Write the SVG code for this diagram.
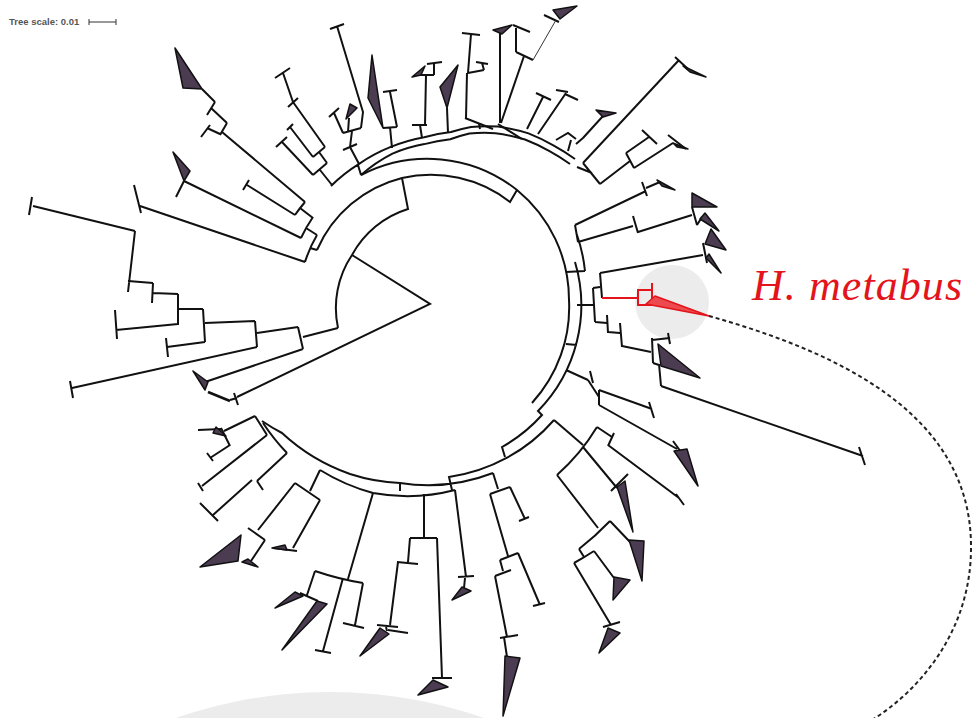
<svg xmlns="http://www.w3.org/2000/svg" width="972" height="718" viewBox="0 0 972 718">
<style>
.b{fill:none;stroke:#111;stroke-width:2;stroke-linejoin:miter}
.t{fill:none;stroke:#333;stroke-width:1}
.w{fill:#4b3c52;stroke:#111;stroke-width:1.5;stroke-linejoin:round}
.r{fill:none;stroke:#e3141b;stroke-width:2}
.rw{fill:#ec4a4f;stroke:#e3141b;stroke-width:1.5;stroke-linejoin:round}
.lbl{font-family:"Liberation Serif","DejaVu Serif",serif;font-style:italic;font-size:44px;fill:#e3141b}
.sc{font-family:"Liberation Sans",Arial,sans-serif;font-weight:bold;font-size:9.5px;fill:#555}
.dash{fill:none;stroke:#222;stroke-width:2;stroke-dasharray:4 3}
.halo{fill:#ececec}
</style>
<rect width="972" height="718" fill="#fff"/>
<circle class="halo" cx="330" cy="1162" r="470"/>
<circle class="halo" cx="672" cy="302" r="37"/>
<g id="scale">
<text class="sc" x="9" y="25">Tree scale: 0.01</text>
<path class="t" d="M89 22 H116 M89 19 V25 M116 19 V25"/>
</g>
<g id="connectors">
<g id="skeleton">
<path class="b" d="M352 255 L430 304 L237 397
M338 328 A95 95 0 0 1 352 255 A96 96 0 0 1 408 209 L402 178
M317 250 A126 126 0 0 1 402 178 A129 129 0 0 1 510 202 L517 190
M361 175 A144 144 0 0 1 517 190 A142 142 0 0 1 569 300 A142 142 0 0 1 532 403
M566 344 L577 345
M575 262 A151 151 0 0 1 538 411 L542 415 A157 157 0 0 1 502 447 L505 457
M554 420 A171 171 0 0 1 449 477 L452 490
M493 473 A180 180 0 0 1 400 483 A186 186 0 0 1 350 474 A195 195 0 0 1 282 433 A200 200 0 0 1 262 421
M455 490 A190 190 0 0 1 373 493 A200 200 0 0 1 320 470
M400 483 L400 491"/>
</g>
<g id="top-band">
<path class="b" d="M361 175 L358 165
M331 186 A155 155 0 0 1 358.7 164.1 A160 160 0 0 1 390.8 146.9 A165 165 0 0 1 424.2 137.2 A170 170 0 0 1 451 132 A177 177 0 0 1 471 127 A186 186 0 0 1 498 126.6 A194 194 0 0 1 528.5 133.4 A199 199 0 0 1 553.8 145.6 A203 203 0 0 1 575 159
M361 175 A150 150 0 0 1 392.5 153.6 A158 158 0 0 1 424.4 144.1 A163 163 0 0 1 450.3 139.2 A171 171 0 0 1 469.4 133.5 A179 179 0 0 1 495.5 133.2 A187 187 0 0 1 525 139.5 A192 192 0 0 1 549.5 151.1 A196 196 0 0 1 570 164"/>
</g>
</g>
<g id="clade-comb">
<path class="b" d="M338 328 L303 337 M298 327 L303 349 M298 327 L257 333 M255 321 L257 347 M257 347 L72 388 M70 381 L73 398
M255 321 L205 323 M203 309 L205 342 M205 342 L167 347 M166 338 L168 357 M203 309 L178 309 M178 294 L178 325 M178 324 L116 330 M115 310 L117 339
M178 294 L153 293 M153 283 L152 303 M153 283 L128 281 M135 231 L128 292 M135 231 L33 206 M32 197 L29 215 M303 349 L205 382"/>
<polygon class="w" points="193,371 208,382 205,390"/>
</g>
<g id="clade-root-low">
<path class="b" d="M237 398 L230 400 M234 393 L238 405"/>
<path class="b" style="stroke-width:2.6" d="M230 401 L208 392"/>
</g>
<g id="clade-ul">
<path class="b" d="M317 250 L310 248 M305 262 A132 132 0 0 1 317 235 M305 262 L140 206 M134 185 L141 213
M317 235 L306 228 M301 238 A145 145 0 0 1 313 217 M301 238 L184 181 M184 181 L176 197
M313 218 L300 208 M295 215 A162 162 0 0 1 305 202 M295 215 L247 185 M243 190 L249 180
M305 202 L222 132 M227 123 L220 135 M220 134 L207 128 M201 137 L210 125 M227 123 L211 108 M215 102 L207 115 M215 102 L202 89"/>
<polygon class="w" points="173,152 190,171 184,181"/>
<polygon class="w" points="202,89 175,48 183,88"/>
</g>
<g id="clade-p">
<path class="b" d="M320 170 L332 185 M327 163 L313 175 M313 175 L282 142 M276 147 L287 137 M327 163 L319 152 M325 147 L313 157 M313 157 L290 127 M287 130 L293 124 M325 147 L293 102 M288 107 L298 98 M293 102 L283 73 M275 78 L290 68"/>
</g>
<g id="clade-q">
<path class="b" d="M337 26 L363 112 L361 128 M330 29 L344 24 M343 133 L361 128 M343 150 L357 144 M350 147 L352 131 M359 164 L350 147 M343 133 L334 113 M329 117 L339 108 M348 132 L349 118"/>
<polygon class="w" points="346,119 350,104 357,108"/>
</g>
<g id="clade-w3">
<polygon class="w" points="383,128 372,55 368,98"/>
<path class="b" d="M383 128 L397 127 M397 127 L390 92 M383 92 L397 90 M390 127 L392 148"/>
</g>
<g id="clade-k">
<path class="b" d="M418 75 L434 75 M434 75 L434 64 M427 64 L442 62 M426 75 L425 125 M412 125 L427 125 M420 125 L422 138"/>
<polygon class="w" points="412,77 425,66 421,75"/>
</g>
<g id="clade-w4">
<polygon class="w" points="447,108 440,87 458,65"/>
<path class="b" d="M447 108 L448 133"/>
</g>
<g id="clade-t">
<path class="b" d="M462 33 L480 35 M471 34 L468 73 M468 73 L484 70 M484 70 L482 63 M476 62 L488 64 M467 73 L466 118 M465 118 L493 129 M479 124 L480 129"/>
</g>
<g id="clade-w5">
<polygon class="w" points="493,30 512,25 502,34"/>
<path class="b" d="M513 25 L530 32 M500 33 L500 123 M516 28 L516 52 M516 52 L533 60 M524 56 L501 123 M544 15 L559 22 M498 124 L522 139"/>
<path class="t" d="M533 60 L556 20"/>
<polygon class="w" points="553,10 577,6 560,19"/>
</g>
<g id="clade-v">
<path class="b" d="M536 93 L551 100 M543 97 L527 129 M556 90 L568 92 M565 94 L578 100 M566 93 L538 134 M556 140 L568 133 L576 139 M603 116 L583 138 M583 138 L576 144 M571 140 L568 151"/>
<polygon class="w" points="596,110 616,113 603,117"/>
</g>
<g id="clade-long">
<path class="b" d="M583 163 L600 184 M592 173 L577 167 M583 163 L679 60 M675 57 L688 69 M600 184 L630 161 M626 153 L634 168 M626 153 L649 137 M642 130 L657 144 M634 168 L673 143 M668 135 L686 149"/>
<polygon class="w" points="683,66 706,77 690,72"/>
<polygon class="w" points="673,143 688,149 677,147"/>
</g>
<g id="clade-right">
<path class="b" d="M566 272 L585 271 M577 235 A160 160 0 0 1 585 271 M575 225 L578 242
M575 225 L646 191 M642 182 L647 196 M646 188 L660 182
M578 242 L633 226 M633 216 L638 233 M638 232 L692 215 M692 207 L697 225 M697 225 L702 217
M577 305 L594 305 M593 288 L595 322 M593 288 L600 287 M600 273 L602 298 M600 273 L703 255 M703 243 L707 263
M595 322 L607 323 M607 315 L608 333 M608 332 L620 333 M620 323 L622 347 M622 346 L651 352 M652 338 L653 363 M652 340 L670 338 M668 333 L670 344
M653 363 L659 365 M659 364 L661 386 M661 386 L863 456 M859 447 L865 465"/>
<polygon class="w" points="657,180 675,190 662,186"/>
<polygon class="w" points="692,207 692,193 717,207"/>
<polygon class="w" points="700,219 705,213 719,231"/>
<polygon class="w" points="705,244 711,229 726,250"/>
<polygon class="w" points="706,258 709,254 721,273"/>
<polygon class="w" points="658,344 700,378 661,366"/>
</g>
<g id="clade-metabus">
<path class="r" d="M602 298 L638 298 M652 283 L652 305 L638 305 L638 290 L652 290"/>
<polygon class="rw" points="646,304 655,296 709,316"/>
</g>
<g id="clade-lr1">
<path class="b" d="M566 370 L588 380 M590 371 L593 383 M588 380 L599 397 M599 390 L599 405 M599 390 L652 409 M649 402 L654 418 M599 405 L677 449 M673 441 L681 452"/>
<polygon class="w" points="674,451 687,449 698,486"/>
</g>
<g id="clade-lr2">
<path class="b" d="M554 420 L583 445 M597 427 A208 208 0 0 1 557 475 M597 427 L612 437 M614 433 L608 446 M608 445 L679 498 M676 494 L684 505
M583 447 L617 488 M611 491 L628 474 M557 475 L598 528 M610 521 A284 284 0 0 1 579 549 M610 521 L630 542 M579 549 L584 557
M594 551 A296 296 0 0 1 574 563 M594 551 L614 578 M574 563 L611 625 M603 627 L620 622"/>
<polygon class="w" points="617,487 625,481 633,532"/>
<polygon class="w" points="629,540 644,541 642,581"/>
<polygon class="w" points="614,577 630,580 613,600"/>
<polygon class="w" points="608,628 620,633 599,653"/>
</g>
<g id="clade-lm">
<path class="b" d="M493 473 L498 489 M490 494 L510 487 M510 487 L525 519 M519 521 L529 517 M490 494 L508 556 M500 560 L518 553 M518 553 L540 605 M533 606 L545 603
M500 560 L503 571 M495 576 L511 570 M495 576 L507 637 M500 638 L518 635 M504 637 L507 657"/>
<polygon class="w" points="505,656 520,658 503,716"/>
</g>
<g id="clade-bottom">
<path class="b" d="M424 494 L424 538 M410 538 L437 538 M410 538 L408 562 M397 562 L418 564 M398 562 L390 625 M377 625 L398 627 M388 630 L408 633 M386 627 L387 631
M437 538 L442 678 M432 678 L452 678 M455 490 L466 577 M458 577 L474 576 M465 578 L464 588"/>
<polygon class="w" points="380,628 389,634 360,656"/>
<polygon class="w" points="433,680 448,687 418,695"/>
<polygon class="w" points="462,587 471,591 452,600"/>
</g>
<g id="clade-c">
<path class="b" d="M373 493 L348 579 M315 571 A289 289 0 0 0 363 583 M363 583 L355 625 M343 623 L364 628 M343 578 L323 651 M315 650 L331 653 M315 571 L307 595 M300 593 L318 601"/>
<polygon class="w" points="303,596 295,592 275,608"/>
<polygon class="w" points="317,601 327,604 282,650"/>
</g>
<g id="clade-d">
<path class="b" d="M320 470 L310 491 M295 483 L320 500 M295 483 L258 530 M248 528 L265 540 M265 540 L251 561 M320 500 L293 548 M273 548 L297 551"/>
<polygon class="w" points="241,535 238,561 200,567"/>
<polygon class="w" points="248,559 258,567 242,562"/>
<polygon class="w" points="272,548 285,545 287,550"/>
</g>
<g id="clade-e">
<path class="b" d="M263 423 A205 205 0 0 0 287 453 M255 416 L267 435 M255 416 L224 431 M221 428 L230 446 M221 429 L198 430 M230 445 L210 458 M207 453 L213 461 M267 435 L202 486 M198 483 L203 491
M287 453 L257 481 M257 481 L263 490 M252 480 L213 515 M200 503 L218 521"/>
<polygon class="w" points="216,427 226,436 213,433"/>
</g>
<path id="link" class="dash" d="M709 316 C830 350 970 410 971 545 C972 630 920 690 872 720"/>
<text class="lbl" x="752" y="300" textLength="210" lengthAdjust="spacing">H. metabus</text>
</svg>
